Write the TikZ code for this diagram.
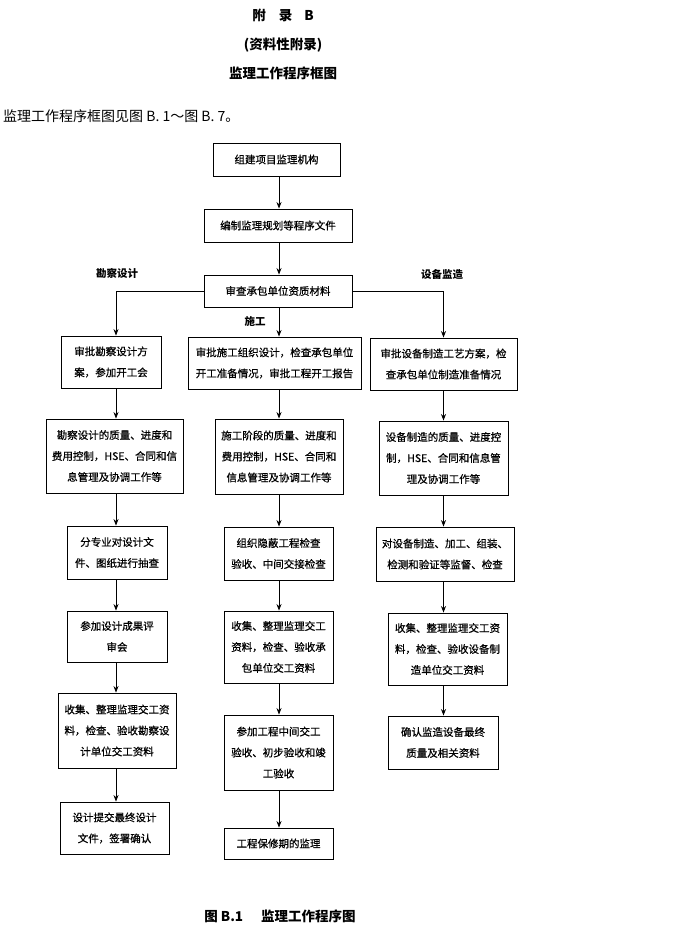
\documentclass[tikz,border=0pt]{standalone}
\usepackage{fontspec}
\setmainfont{Noto Sans CJK SC}
\newfontfamily\boxfont{Noto Sans CJK SC}[FakeBold=0.7]
\usetikzlibrary{arrows.meta}
\tikzset{
  box/.style={draw, line width=0.9pt, align=center, inner sep=0pt, font=\boxfont\fontsize{10.5}{21}\selectfont},
  arr/.style={line width=0.8pt, -{Stealth[length=6.5pt,width=5pt]}},
  lbl/.style={inner sep=0pt, font=\fontsize{10.5}{12}\selectfont\bfseries},
  head/.style={inner sep=0pt, font=\fontsize{13.5}{16}\selectfont\bfseries},
}
\begin{document}
\begin{tikzpicture}[x=1pt,y=-1pt]
\useasboundingbox (0,0) rectangle (694,931);
% headings
\node[head] (h1) at (283,15) {附\hspace{13pt}录\hspace{12pt}B};
\node[head] (h2) at (283,45) {(资料性附录)};
\node[head] (h3) at (283,73) {监理工作程序框图};
\node[anchor=west, inner sep=0pt, font=\fontsize{14}{16}\selectfont] (intro) at (3,116) {监理工作程序框图见图 B. 1～图 B. 7。};
\node[head] (cap) at (280,916) {图 B.1\hspace{18pt}监理工作程序图};
% column coordinates
\coordinate (xl) at (116,0);
\coordinate (xc) at (279,0);
\coordinate (xr) at (443.5,0);
% top boxes
\node[box, minimum width=127pt, minimum height=33pt] (B1) at (276.5,159.5) {组建项目监理机构};
\node[box, minimum width=148pt, minimum height=33pt] (B2) at (278,225.5) {编制监理规划等程序文件};
\node[box, minimum width=148pt, minimum height=32pt] (B3) at (278,291) {审查承包单位资质材料};
% labels
\node[lbl] (lk) at (117,273) {勘察设计};
\node[lbl] (lr) at (442,274) {设备监造};
\node[lbl] (lc) at (255,321) {施工};
% left column
\node[box, minimum width=100pt, minimum height=52pt] (L1) at (111,362) {审批勘察设计方\\案，参加开工会};
\node[box, minimum width=137pt, minimum height=74pt] (L2) at (114.5,456) {勘察设计的质量、进度和\\费用控制，HSE、合同和信\\息管理及协调工作等};
\node[box, minimum width=100pt, minimum height=53pt] (L3) at (117,552.5) {分专业对设计文\\件、图纸进行抽查};
\node[box, minimum width=100pt, minimum height=51pt] (L4) at (117,636.5) {参加设计成果评\\审会};
\node[box, minimum width=118pt, minimum height=75pt] (L5) at (117,730.5) {收集、整理监理交工资\\料，检查、验收勘察设\\计单位交工资料};
\node[box, minimum width=109pt, minimum height=52pt] (L6) at (114.5,828) {设计提交最终设计\\文件，签署确认};
% centre column
\node[box, minimum width=173pt, minimum height=52pt] (C1) at (274.5,363) {审批施工组织设计，检查承包单位\\开工准备情况，审批工程开工报告};
\node[box, minimum width=128pt, minimum height=75pt] (C2) at (279,456.5) {施工阶段的质量、进度和\\费用控制，HSE、合同和\\信息管理及协调工作等};
\node[box, minimum width=109pt, minimum height=53pt] (C3) at (278.5,553.5) {组织隐蔽工程检查\\验收、中间交接检查};
\node[box, minimum width=109pt, minimum height=72pt] (C4) at (278.5,647) {收集、整理监理交工\\资料，检查、验收承\\包单位交工资料};
\node[box, minimum width=109pt, minimum height=75pt] (C5) at (278.5,752.5) {参加工程中间交工\\验收、初步验收和竣\\工验收};
\node[box, minimum width=109pt, minimum height=31pt] (C6) at (278.5,843.5) {工程保修期的监理};
% right column
\node[box, minimum width=147pt, minimum height=52pt] (R1) at (443.5,364) {审批设备制造工艺方案，检\\查承包单位制造准备情况};
\node[box, minimum width=129pt, minimum height=74pt] (R2) at (443.5,458) {设备制造的质量、进度控\\制，HSE、合同和信息管\\理及协调工作等};
\node[box, minimum width=138pt, minimum height=54pt] (R3) at (445,554) {对设备制造、加工、组装、\\检测和验证等监督、检查};
\node[box, minimum width=119pt, minimum height=72pt] (R4) at (447.5,649) {收集、整理监理交工资\\料，检查、验收设备制\\造单位交工资料};
\node[box, minimum width=110pt, minimum height=53pt] (R5) at (443,742.5) {确认监造设备最终\\质量及相关资料};
% connectors
\draw[arr] (B1.south -| xc) -- (B2.north -| xc);
\draw[arr] (B2.south -| xc) -- (B3.north -| xc);
\draw[arr] (B3.south -| xc) -- (C1.north -| xc);
\draw[arr] (B3.west) -- (B3.west -| xl) -- (L1.north -| xl);
\draw[arr] (B3.east) -- (B3.east -| xr) -- (R1.north -| xr);
\draw[arr] (L1.south -| xl) -- (L2.north -| xl);
\draw[arr] (L2.south -| xl) -- (L3.north -| xl);
\draw[arr] (L3.south -| xl) -- (L4.north -| xl);
\draw[arr] (L4.south -| xl) -- (L5.north -| xl);
\draw[arr] (L5.south -| xl) -- (L6.north -| xl);
\draw[arr] (C1.south -| xc) -- (C2.north -| xc);
\draw[arr] (C2.south -| xc) -- (C3.north -| xc);
\draw[arr] (C3.south -| xc) -- (C4.north -| xc);
\draw[arr] (C4.south -| xc) -- (C5.north -| xc);
\draw[arr] (C5.south -| xc) -- (C6.north -| xc);
\draw[arr] (R1.south -| xr) -- (R2.north -| xr);
\draw[arr] (R2.south -| xr) -- (R3.north -| xr);
\draw[arr] (R3.south -| xr) -- (R4.north -| xr);
\draw[arr] (R4.south -| xr) -- (R5.north -| xr);
\end{tikzpicture}
\end{document}
